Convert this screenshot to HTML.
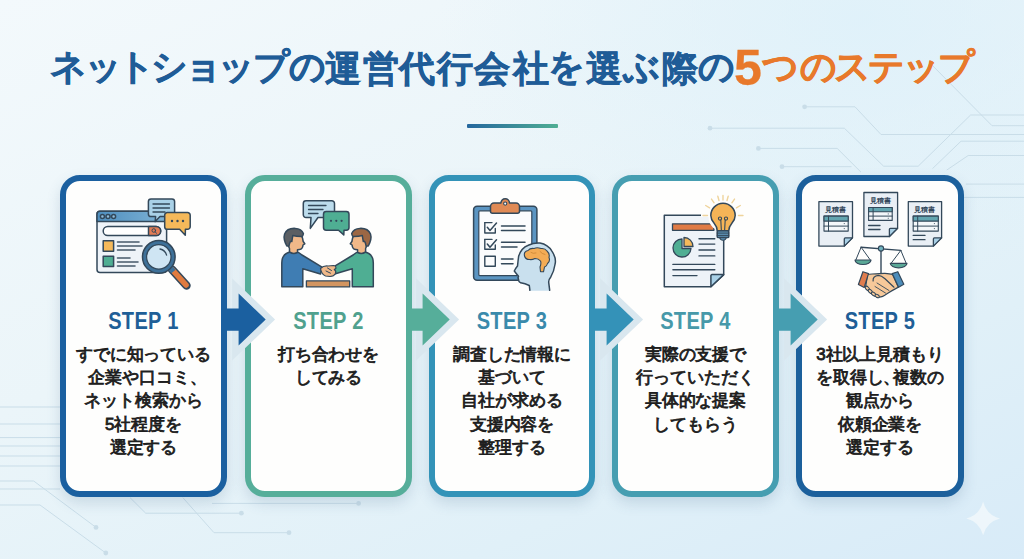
<!DOCTYPE html>
<html lang="ja">
<head>
<meta charset="utf-8">
<style>
*{margin:0;padding:0;box-sizing:border-box}
html,body{width:1024px;height:559px;overflow:hidden}
body{position:relative;font-family:"Liberation Sans",sans-serif;
background:radial-gradient(ellipse 420px 260px at 860px 20px,rgba(220,240,250,0.75),rgba(220,240,250,0)),linear-gradient(155deg,#f3f9fc 0%,#ebf5f9 40%,#e0f0f8 75%,#d8ebf8 100%);}
.abs{position:absolute}
#title{position:absolute;left:0;top:0;width:1024px;height:100px}
#title span{position:absolute;top:48.5px;width:50px;text-align:center;font-size:36px;line-height:40px;font-weight:700;white-space:nowrap;-webkit-text-stroke:0.6px currentColor}
#title .b{color:#1f5c97}
#title .o{color:#e8792b}
#title .k{top:47.3px}
#title .d{font-size:50px;top:42.5px;line-height:50px;-webkit-text-stroke:0.3px currentColor}
#uline{position:absolute;left:467px;top:124px;width:91px;height:4px;border-radius:1px;background:linear-gradient(90deg,#25679e,#4fae93)}
.card{position:absolute;top:175px;width:166px;height:322px;border:6px solid #1f5f9e;border-radius:20px;background:#fefefd;box-shadow:0 6px 14px rgba(60,100,140,.18)}
.step{position:absolute;left:0;width:100%;top:126.5px;text-align:center;font-size:23px;font-weight:700;letter-spacing:0.4px;transform:scaleX(0.87);transform-origin:50% 0}
.txt{position:absolute;left:0;width:100%;top:161.5px;text-align:center;font-size:17px;font-weight:400;color:#1e1e1e;line-height:23.4px;letter-spacing:-0.1px;-webkit-text-stroke:0.85px #1e1e1e}
svg{position:absolute;overflow:visible}
</style>
</head>
<body>
<svg style="left:0;top:0" width="1024" height="559" viewBox="0 0 1024 559">
 <g fill="none" stroke="#c9dde8" stroke-width="1">
  <path d="M804.6 106.8 H855 L881 134.5 H1024"/>
  <path d="M710 128.2 H844.3 L883.6 166.2 H918.2 L970.6 115 H1024"/>
  <path d="M758.4 148.4 H837.2 L861 172.2"/>
  <path d="M782 166.7 H851.5"/>
  <path d="M930 63 L992 125.7 H1024"/>
  <path d="M932.5 168.6 L961 141.2 H1024"/>
  <path d="M946.8 170 L968.2 155.5 H1024"/>
  <path d="M965.8 184.1 H1024"/>
  <path d="M955 197.4 H1024"/>
  <path d="M0 407 H60 M0 424 H60 M0 437.6 H60 M0 446 H60 M0 456 H60 M0 466 H60 M0 489 H60"/>
  <path d="M0 481 H33.7 L96 527.4"/>
  <path d="M0 505 H40 L105.8 553"/>
  <path d="M130 497.6 L145.7 513.2 H241.4"/>
  <path d="M182.8 497.6 L214 532.7 H289"/>
  <path d="M212 503.4 H358.6"/>
 </g>
 <g fill="#c9dde8">
  <circle cx="804.6" cy="106.8" r="2.4"/><circle cx="710" cy="128.2" r="2.4"/><circle cx="758.4" cy="148.4" r="2.4"/><circle cx="782" cy="166.7" r="2.4"/>
  <circle cx="96" cy="527.4" r="2.4"/><circle cx="105.8" cy="553" r="2.4"/><circle cx="241.4" cy="513.2" r="2.4"/><circle cx="289" cy="532.7" r="2.4"/><circle cx="358.6" cy="503.4" r="2.4"/>
 </g>
 <path d="M983.1 501.5 Q986.5 515 1000 518.4 Q986.5 521.8 983.1 535.2 Q979.7 521.8 966.3 518.4 Q979.7 515 983.1 501.5 Z" fill="#f0f7fb" opacity="0.9"/>
</svg>

<div id="title"><span class="b k" style="left:43.1px">ネ</span><span class="b k" style="left:78.6px">ッ</span><span class="b k" style="left:111.9px">ト</span><span class="b k" style="left:144.5px">シ</span><span class="b k" style="left:178.0px">ョ</span><span class="b k" style="left:211.6px">ッ</span><span class="b k" style="left:246.0px">プ</span><span class="b k" style="left:282.4px">の</span><span class="b" style="left:318.0px">運</span><span class="b" style="left:355.6px">営</span><span class="b" style="left:392.0px">代</span><span class="b" style="left:430.4px">行</span><span class="b" style="left:467.0px">会</span><span class="b" style="left:505.8px">社</span><span class="b k" style="left:541.7px">を</span><span class="b" style="left:579.0px">選</span><span class="b k" style="left:616.7px">ぶ</span><span class="b" style="left:655.0px">際</span><span class="b k" style="left:691.8px">の</span><span class="o d" style="left:723.0px">5</span><span class="o k" style="left:755.2px">つ</span><span class="o k" style="left:793.0px">の</span><span class="o k" style="left:827.8px">ス</span><span class="o k" style="left:861.5px">テ</span><span class="o k" style="left:896.2px">ッ</span><span class="o k" style="left:931.4px">プ</span></div>
<div id="uline"></div>

<div class="card" style="left:60px;width:167px;border-color:#1b60a0">
 <div class="step" style="color:#1f5f97">STEP 1</div>
 <div class="txt">すでに知っている<br>企業や口コミ<span style="letter-spacing:-8px">、</span><br>ネット検索から<br>5社程度を<br>選定する</div>
</div>
<div class="card" style="left:245px;width:167px;border-color:#56ae9a">
 <div class="step" style="color:#50a18e">STEP 2</div>
 <div class="txt">打ち合わせを<br>してみる</div>
</div>
<div class="card" style="left:429px;width:166px;border-color:#3393b8">
 <div class="step" style="color:#3a8aab">STEP 3</div>
 <div class="txt">調査した情報に<br>基づいて<br>自社が求める<br>支援内容を<br>整理する</div>
</div>
<div class="card" style="left:612px;width:167px;border-color:#469eb1">
 <div class="step" style="color:#4799a9">STEP 4</div>
 <div class="txt">実際の支援で<br>行っていただく<br>具体的な提案<br>してもらう</div>
</div>
<div class="card" style="left:796px;width:168px;border-color:#1c609c">
 <div class="step" style="color:#1f5f97">STEP 5</div>
 <div class="txt">3社以上見積もり<br>を取得し<span style="letter-spacing:-7px">、</span>複数の<br>観点から<br>依頼企業を<br>選定する</div>
</div>

<svg style="left:0;top:0" width="1024" height="559" viewBox="0 0 1024 559">
 <path d="M238.6 293.6 L265.7 319.6 L238.6 345.4 Z" fill="#d9e7ef" stroke="#d9e7ef" stroke-width="13" stroke-linejoin="miter"/>
 <path d="M222 308.6 H238.6 V293.6 L265.7 319.6 L238.6 345.4 V330.7 H222 Z" fill="#1b60a0"/>
 <path d="M422.6 293.6 L449.7 319.6 L422.6 345.4 Z" fill="#d9e7ef" stroke="#d9e7ef" stroke-width="13" stroke-linejoin="miter"/>
 <path d="M406 308.6 H422.6 V293.6 L449.7 319.6 L422.6 345.4 V330.7 H406 Z" fill="#56ae9a"/>
 <path d="M606.6 293.6 L633.7 319.6 L606.6 345.4 Z" fill="#d9e7ef" stroke="#d9e7ef" stroke-width="13" stroke-linejoin="miter"/>
 <path d="M590 308.6 H606.6 V293.6 L633.7 319.6 L606.6 345.4 V330.7 H590 Z" fill="#3492b8"/>
 <path d="M790.6 293.6 L817.7 319.6 L790.6 345.4 Z" fill="#d9e7ef" stroke="#d9e7ef" stroke-width="13" stroke-linejoin="miter"/>
 <path d="M774 308.6 H790.6 V293.6 L817.7 319.6 L790.6 345.4 V330.7 H774 Z" fill="#469eb1"/>
</svg>
<!--ICONS-->
<svg style="left:0;top:0" width="1024" height="559" viewBox="0 0 1024 559">
<defs>
 <linearGradient id="tb" x1="0" x2="1"><stop offset="0" stop-color="#4f8fbf"/><stop offset="1" stop-color="#7eb3d6"/></linearGradient>
</defs>
<g stroke="#33485a" stroke-width="1.5" stroke-linejoin="round" stroke-linecap="round">
 <!-- ICON 1 -->
 <rect x="97" y="211.2" width="69.6" height="61.4" rx="3" fill="#eef3f8"/>
 <path d="M97 221.5 V214.2 a3 3 0 0 1 3 -3 H163.6 a3 3 0 0 1 3 3 V221.5 Z" fill="url(#tb)"/>
 <circle cx="102.4" cy="216.4" r="2" fill="#8fbddc"/>
 <circle cx="108" cy="216.4" r="2" fill="#8fbddc"/>
 <circle cx="113.6" cy="216.4" r="2" fill="#8fbddc"/>
 <rect x="103.2" y="226.4" width="57.5" height="9.2" rx="4.6" fill="#fff"/>
 <path d="M148.5 226.4 H156.1 a4.6 4.6 0 0 1 0 9.2 H148.5 Z" fill="#e27c55"/>
 <circle cx="153.8" cy="230.5" r="1.8" stroke-width="1" fill="none"/>
 <path d="M155.1 231.8 L156.6 233.3" stroke-width="1"/>
 <rect x="103.2" y="240.8" width="10.4" height="10.4" fill="#f5b95a"/>
 <rect x="103.2" y="256.2" width="10.4" height="10.4" fill="#4fae93"/>
 <path d="M117.5 242 H139 M117.5 246 H142 M117.5 250 H135 M117.5 258 H130 M117.5 262 H138 M117.5 266 H135" stroke="#475a6a" stroke-width="1.6"/>
 <!-- bubble blue -->
 <path d="M151 199 H172 a2.6 2.6 0 0 1 2.6 2.6 V214 a2.6 2.6 0 0 1 -2.6 2.6 H160 L155.2 221.6 L155.6 216.6 H151 a2.6 2.6 0 0 1 -2.6 -2.6 V201.6 a2.6 2.6 0 0 1 2.6 -2.6 Z" fill="#a9d1e7"/>
 <path d="M153 204 H169.5 M153 208 H169.5 M153 212 H165" stroke-width="1.3"/>
 <!-- bubble orange -->
 <path d="M167.3 212.6 H187.6 a2.6 2.6 0 0 1 2.6 2.6 V226.7 a2.6 2.6 0 0 1 -2.6 2.6 H185.4 L185.3 235.2 L179.6 229.3 H167.3 a2.6 2.6 0 0 1 -2.6 -2.6 V215.2 a2.6 2.6 0 0 1 2.6 -2.6 Z" fill="#f5b95a"/>
 <circle cx="172" cy="221" r="1.2" fill="#33485a" stroke="none"/>
 <circle cx="177.5" cy="221" r="1.2" fill="#33485a" stroke="none"/>
 <circle cx="183" cy="221" r="1.2" fill="#33485a" stroke="none"/>
 <!-- magnifier -->
 <path d="M172 269.5 L186.5 285.5" stroke="#33485a" stroke-width="8.5"/>
 <path d="M172.5 270 L186 285" stroke="#e07b3f" stroke-width="5.6"/>
 <path d="M169.5 267 L173.5 271.5" stroke="#3e7199" stroke-width="5.6" stroke-linecap="butt"/>
 <circle cx="158.8" cy="256.9" r="16.3" fill="#3e7199" stroke="#33485a"/>
 <circle cx="158.8" cy="256.9" r="12.2" fill="#cfe5f3" stroke="#33485a" stroke-width="1.2"/>
 <path d="M160 249 a8.5 8.5 0 0 1 6.6 6.2" stroke="#33485a" stroke-width="1.3" fill="none"/>
</g>
<g stroke="#33485a" stroke-width="1.5" stroke-linejoin="round" stroke-linecap="round">
 <!-- ICON 2 -->
 <!-- bubble light blue -->
 <path d="M306 200.8 H331.8 a2.7 2.7 0 0 1 2.7 2.7 V214.8 a2.7 2.7 0 0 1 -2.7 2.7 H318 L310.3 228.4 L311 217.5 H306 a2.7 2.7 0 0 1 -2.7 -2.7 V203.5 a2.7 2.7 0 0 1 2.7 -2.7 Z" fill="#bcdcec"/>
 <path d="M308.5 205.5 H326 M308.5 209.5 H323 M308.5 213.5 H318" stroke-width="1.3"/>
 <!-- bubble teal -->
 <path d="M326.2 211.6 H346.3 a2.7 2.7 0 0 1 2.7 2.7 V227.6 a2.7 2.7 0 0 1 -2.7 2.7 H344 L343.8 234.9 L338.5 230.3 H326.2 a2.7 2.7 0 0 1 -2.7 -2.7 V214.3 a2.7 2.7 0 0 1 2.7 -2.7 Z" fill="#4fae93"/>
 <circle cx="331" cy="220.8" r="1.1" fill="#33485a" stroke="none"/>
 <circle cx="336.3" cy="220.8" r="1.1" fill="#33485a" stroke="none"/>
 <circle cx="341.6" cy="220.8" r="1.1" fill="#33485a" stroke="none"/>
 <!-- table -->
 <rect x="306.4" y="280.9" width="43.3" height="6" fill="#d39560" stroke-width="1.3"/>
 <!-- left person -->
 <path d="M281.8 286.8 V263 Q281.8 254 290 252 L295 251.5 Q299 252 302 255 L322 267.2 L320.5 274 L302.8 268.8 V286.8 Z" fill="#3f7db3"/>
 <path d="M289 241 Q288.5 234 295 233.5 Q301 233 302.5 238 L303.2 241.5 L304.8 243.8 L303 245 Q302.8 249 299.5 249.5 L297.5 249.8 V252.5 Q293.5 254.5 289.5 252 L289.5 248.5 Q287.5 245 289 241 Z" fill="#f0b889"/>
 <path d="M286.8 246 Q283 239 284.6 234 Q287 228 295.2 228.4 Q301.5 228.6 303.4 233.5 Q303 236.5 301.6 236.5 Q296 236.3 292.8 235.5 Q292.3 239 291.8 241.5 Q289.8 240.5 289 246 Z" fill="#5b5f63"/>
 <!-- right person -->
 <path d="M373.3 286.8 V263 Q373.3 254 365.1 252 L360.1 251.5 Q356.1 252 353.1 255 L333.1 267.2 L334.6 274 L352.3 268.8 V286.8 Z" fill="#4fae93"/>
 <path d="M 366.1 241.0 Q 366.6 234.0 360.1 233.5 Q 354.1 233.0 352.6 238.0 L 351.9 241.5 L 350.3 243.8 L 352.1 245.0 Q 352.3 249.0 355.6 249.5 L 357.6 249.8 V 252.5 Q 361.6 254.5 365.6 252.0 L 365.6 248.5 Q 367.6 245.0 366.1 241.0 Z" fill="#f0b889"/>
 <path d="M 368.3 246.0 Q 372.1 239.0 370.5 234.0 Q 368.1 228.0 359.9 228.4 Q 353.6 228.6 351.7 233.5 Q 352.1 236.5 353.5 236.5 Q 359.1 236.3 362.3 235.5 Q 362.8 239.0 363.3 241.5 Q 365.3 240.5 366.1 246.0 Z" fill="#9c6744"/>
 <!-- hands -->
 <path d="M320.5 268.5 Q323.5 265.5 328 266 L333.5 265.5 Q336.5 266 335.8 268.5 L334.3 269.5 Q336.5 271 335.5 273.5 Q334 276.3 330 276.5 L325.5 276 Q321.5 274.5 320.5 268.5 Z" fill="#f0b889" stroke-width="1.2"/>
 <path d="M327.5 268 l4 2.5 M326 271 l4.5 2.2" stroke-width="1"/>
</g>
<g stroke="#33485a" stroke-width="1.5" stroke-linejoin="round" stroke-linecap="round">
 <!-- ICON 3 -->
 <rect x="473.6" y="206.3" width="63.3" height="74" rx="3.5" fill="#5b95c2"/>
 <rect x="478.8" y="210.8" width="53" height="64.8" rx="1" fill="#fbfcfd" stroke-width="1.2"/>
 <path d="M492.5 213.2 H517.5 a2 2 0 0 0 2 -2 V206.5 a3.5 3.5 0 0 0 -3.5 -3.5 H509.5 a4.3 4.3 0 0 0 -8.6 0 H494 a3.5 3.5 0 0 0 -3.5 3.5 V211.2 a2 2 0 0 0 2 2 Z" fill="#e08a55"/>
 <circle cx="505.2" cy="203.6" r="1.6" fill="#fbfcfd" stroke-width="1.1"/>
 <path d="M484.8 222.6 V233 H495.3 V228.5 M484.8 239.4 V249.2 H495.3 V245 M484.8 256.2 H495.3 V266.3 H484.8 Z" fill="none" stroke-width="1.4"/>
 <path d="M484.8 222.6 H492" stroke-width="1.4"/>
 <path d="M484.8 239.4 H492" stroke-width="1.4"/>
 <path d="M487.3 227.3 L490 230.5 L496.5 223" stroke-width="1.5" fill="none"/>
 <path d="M487.3 244 L490 247.2 L496.5 239.7" stroke-width="1.5" fill="none"/>
 <path d="M501.5 226 H525 M501.5 230.5 H525 M501.5 242.2 H525 M501.5 247 H517 M501.5 259 H513 M501.5 263.8 H513" stroke-width="1.5"/>
 <!-- head -->
 <path d="M529.9 290.8 L529.3 285.5 Q525 283.5 520.7 282.8 Q518.5 281.5 518.6 280 L518 277.5 Q519 276.3 518 275.5 Q516.8 274.5 516.4 273.7 L514.3 271 Q515.5 268.5 517.5 266.1 Q518 261 518.6 256.5 Q521 248 528.3 245.2 Q534 242.5 540 243 Q548 244.5 551.9 251.1 Q556.5 258 555.1 264 Q554 271.5 550.8 276.9 Q548.5 279.5 548.7 282.3 L549.7 290.8 Z" fill="#c9e0ee" stroke="none"/>
 <path d="M529.9 290.3 L529.3 285.5 Q525 283.5 520.7 282.8 Q518.5 281.5 518.6 280 L518 277.5 Q519 276.3 518 275.5 Q516.8 274.5 516.4 273.7 L514.3 271 Q515.5 268.5 517.5 266.1 Q518 261 518.6 256.5 Q521 248 528.3 245.2 Q534 242.5 540 243 Q548 244.5 551.9 251.1 Q556.5 258 555.1 264 Q554 271.5 550.8 276.9 Q548.5 279.5 548.7 282.3 L549.7 290.3" fill="none"/>
 <path d="M524.5 256 Q523.5 251.5 528 250.5 Q530 248 534 248.5 Q537 247 541 248.5 Q545 248 547 251 Q550 253.5 549 257.5 Q550.5 261 547.5 263.5 Q547 266 544.5 267 L543.5 271.8 L540.5 271.8 L540 267 Q541.5 263 540.5 261 Q538.5 258.5 535 258.5 Q532 260 529.5 259.5 Q525.5 259.5 524.5 256 Z" fill="#f3ac55" stroke-width="1.1"/>
 <path d="M531 252.5 Q533 254 536 253 M540 251.5 Q542 254 545 254.5" fill="none" stroke="#c98434" stroke-width="0.8"/>
</g>
<g stroke="#33485a" stroke-width="1.5" stroke-linejoin="round" stroke-linecap="round">
 <!-- ICON 4 -->
 <path d="M664.3 215.2 H723.7 V274.6 L710.9 286.8 H664.3 Z" fill="#eef3f8"/>
 <path d="M723.7 274.6 H712 a1.1 1.1 0 0 0 -1.1 1.1 V286.8 Z" fill="#a9d1e7"/>
 <rect x="672.5" y="223.8" width="41.4" height="6.5" fill="#e07b45" stroke-width="1.3"/>
 <path d="M682 248.5 V239 A9 9 0 1 0 691 248.5 Z" fill="#4fae93" stroke-width="1.3"/>
 <path d="M684 237.5 A9 9 0 0 1 693 246.5 H684 Z" fill="#f5b95a" stroke-width="1.3"/>
 <path d="M699 238.8 H714.8 M699 244.1 H714.8 M699 250 H714.8 M699 255.9 H714.8 M672.9 264.4 H714.8 M672.9 269.7 H714.8 M672.9 275.6 H697" stroke-width="1.4"/>
 <!-- rays -->
 <circle cx="723" cy="217" r="14.5" fill="#fdfdfc" stroke="none"/><rect x="701" y="213.5" width="10" height="3.5" fill="#fdfdfc" stroke="none"/>
 <path d="M707.5 215.5 L703.0 215.5 M709.6 207.8 L705.7 205.5 M714.1 202.8 L711.5 199.1 M719.0 200.5 L717.8 196.2 M723.0 200.0 L723.0 195.5 M727.0 200.5 L728.2 196.2 M731.9 202.8 L734.5 199.1 M736.4 207.8 L740.3 205.5 M738.5 215.5 L743.0 215.5" stroke="#efd49c" stroke-width="1.4"/>
 <!-- bulb -->
 <path d="M717.3 231 Q717.3 227 714.3 223.5 Q710.8 219.5 710.8 215.5 A12.2 12.2 0 0 1 735.2 215.5 Q735.2 219.5 731.7 223.5 Q728.7 227 728.7 231 Z" fill="#f5b457"/>
 <circle cx="720" cy="218.6" r="1.6" fill="none" stroke-width="1.1"/><circle cx="726" cy="218.6" r="1.6" fill="none" stroke-width="1.1"/><path d="M720.8 220.1 L721.4 231 M725.2 220.1 L724.6 231" fill="none" stroke-width="1.1"/>
 <rect x="717.2" y="230.8" width="11.6" height="6.8" rx="1.2" fill="#5f94b8"/>
 <path d="M717.2 233.1 H728.8 M717.2 235.4 H728.8" stroke-width="1"/>
 <path d="M719.5 237.6 H726.5 Q725.5 240.3 723 240.3 Q720.5 240.3 719.5 237.6 Z" fill="#5f94b8" stroke-width="1.1"/>
</g>
<g stroke="#33485a" stroke-width="1.3" stroke-linejoin="round" stroke-linecap="round">
  <!-- ICON 5 -->
 <path d="M818.9 201.7 H852.5 V237.9 L844.3 246.1 H818.9 Z" fill="#e9eff5"/>
 <path d="M852.5 237.9 H845.3 a1 1 0 0 0 -1 1 V246.1 Z" fill="#a9d1e7"/>
 <rect x="824" y="216.1" width="24.200000000000045" height="15.0" fill="#f4f7fa" stroke-width="1.1"/>
 <rect x="824" y="216.1" width="24.200000000000045" height="5.00" fill="#62a5b0" stroke-width="1.1"/>
 <path d="M824 226.10 H848.2 M828.5 216.1 V231.1" stroke-width="1"/>
 <path d="M844.2 223.60 h0.1 M844.2 228.60 h0.1" stroke-width="1"/>
 <text x="835.6999999999999" y="212.29999999999998" font-size="7.4" font-weight="700" fill="#33485a" stroke="none" text-anchor="middle">見積書</text>
 <path d="M863.9 192.5 H897.6 V228.3 L889.4 236.5 H863.9 Z" fill="#e9eff5"/>
 <path d="M897.6 228.3 H890.4 a1 1 0 0 0 -1 1 V236.5 Z" fill="#a9d1e7"/>
 <rect x="868.6" y="207.5" width="23.600000000000023" height="12.900000000000006" fill="#f4f7fa" stroke-width="1.1"/>
 <rect x="868.6" y="207.5" width="23.600000000000023" height="4.30" fill="#62a5b0" stroke-width="1.1"/>
 <path d="M868.6 216.10 H892.2 M873.1 207.5 V220.4" stroke-width="1"/>
 <path d="M888.2 213.95 h0.1 M888.2 218.25 h0.1" stroke-width="1"/>
 <path d="M868.6 225.5 H880" stroke-width="1.3"/>
 <path d="M868.6 229.5 H880" stroke-width="1.3"/>
 <text x="880.75" y="203.0" font-size="7.4" font-weight="700" fill="#33485a" stroke="none" text-anchor="middle">見積書</text>
 <path d="M908.3 201.7 H941.5999999999999 V237.9 L933.3999999999999 246.1 H908.3 Z" fill="#e9eff5"/>
 <path d="M941.5999999999999 237.9 H934.3999999999999 a1 1 0 0 0 -1 1 V246.1 Z" fill="#a9d1e7"/>
 <rect x="913.2" y="216.1" width="25.09999999999991" height="15.0" fill="#f4f7fa" stroke-width="1.1"/>
 <rect x="913.2" y="216.1" width="25.09999999999991" height="5.00" fill="#62a5b0" stroke-width="1.1"/>
 <path d="M913.2 226.10 H938.3 M917.7 216.1 V231.1" stroke-width="1"/>
 <path d="M934.3 223.60 h0.1 M934.3 228.60 h0.1" stroke-width="1"/>
 <path d="M913.2 235.4 H925" stroke-width="1.3"/>
 <path d="M913.2 239.7 H925" stroke-width="1.3"/>
 <text x="924.9499999999999" y="212.29999999999998" font-size="7.4" font-weight="700" fill="#33485a" stroke="none" text-anchor="middle">見積書</text>
 <path d="M881 249 V273" stroke-width="1.4"/>
 <path d="M861.1 247.2 L900.8 250.4" stroke-width="1.4"/>
 <path d="M861.1 247.2 L855.8 260 M861.1 247.2 L870.3 260 M900.8 250.4 L891.1 263.3 M900.8 250.4 L906.2 263.3" stroke-width="1"/>
 <path d="M855 260 H871 A8 4.5 0 0 1 855 260 Z" fill="#5aa896" stroke-width="1.2"/>
 <path d="M890.3 263.3 H907 A8.35 4.5 0 0 1 890.3 263.3 Z" fill="#5aa896" stroke-width="1.2"/>
 <circle cx="881" cy="248.5" r="2.6" fill="#6fb3bf" stroke-width="1.1"/>
 <!-- handshake -->
 <path d="M867.6 274.4 C873 274 880 273.2 885 273.3 C888 273.5 890.5 273.8 892.6 274.4 L898.4 287.2 C895 289 891 291 887 293.8 C884 296 881.5 297.3 879 297.2 C875.5 297 871.5 294 868.5 291 C866.5 289.5 865.5 288 865.6 287 Z" fill="#f6c899" stroke-width="1.2"/>
 <path d="M873.1 281 C872.8 278 874.5 275.8 878.4 275.4 C881 275.5 883 277 885 278.8 L894 287.2" fill="none" stroke-width="1.2"/>
 <path d="M877 283 L889 290.5 M875 286.5 L885.5 293" stroke-width="0.9" fill="none"/>
 <g fill="#f6c899" stroke-width="1">
  <ellipse cx="867.3" cy="288.3" rx="1.5" ry="2.5" transform="rotate(-45 867.3 288.3)"/>
  <ellipse cx="870.3" cy="291.4" rx="1.5" ry="2.5" transform="rotate(-45 870.3 291.4)"/>
  <ellipse cx="873.6" cy="294" rx="1.5" ry="2.5" transform="rotate(-50 873.6 294)"/>
  <ellipse cx="877.2" cy="296" rx="1.5" ry="2.3" transform="rotate(-60 877.2 296)"/>
 </g>
 <path d="M862.9 271.7 L868.5 273.6 L864.2 287.5 L858.4 284.5 Z" fill="#e07d4e" stroke-width="1.2"/>
 <path d="M892.2 273.6 L897.8 271.7 L903.8 284.3 L898.6 287.3 Z" fill="#4d8dba" stroke-width="1.2"/>
</g>
</svg>
<!--/ICONS-->
</body>
</html>
